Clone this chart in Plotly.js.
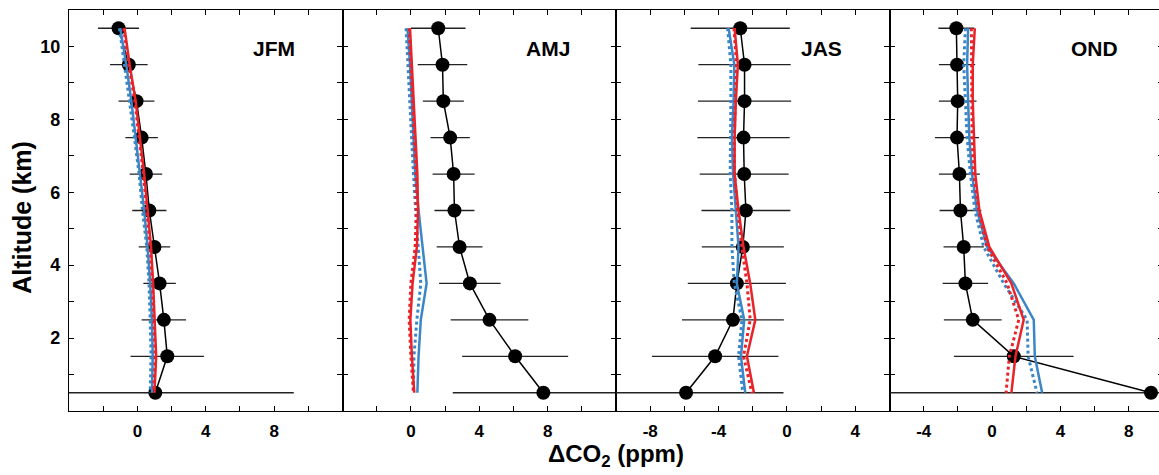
<!DOCTYPE html>
<html>
<head>
<meta charset="utf-8">
<script src="https://cdn.plot.ly/plotly-3.0.1.min.js"></script>
<style>html,body{margin:0;padding:0;overflow:hidden;background:#fff;}#plot{width:1165px;height:475px;}</style>
</head>
<body>
<div id="plot"></div>
<script>
// Altitude levels (km), top to bottom
const altitude = [10.5, 9.5, 8.5, 7.5, 6.5, 5.5, 4.5, 3.5, 2.5, 1.5, 0.5];
const seasons = ['JFM', 'AMJ', 'JAS', 'OND'];

// Observations (black) and their errors
const obsJFM = [-1.1, -0.5, -0.05, 0.25, 0.5, 0.7, 1.0, 1.3, 1.55, 1.75, 1.05];
const errJFM = [1.2, 1.1, 1.05, 0.95, 0.95, 1.0, 0.92, 0.95, 1.3, 2.15, 8.1];
const obsAMJ = [1.6, 1.85, 1.9, 2.3, 2.5, 2.55, 2.85, 3.45, 4.6, 6.1, 7.75];
const errAMJ = [1.6, 1.45, 1.2, 1.15, 1.23, 1.17, 1.34, 1.8, 2.27, 3.1, 5.3];
const obsJAS = [-2.73, -2.48, -2.48, -2.54, -2.5, -2.4, -2.58, -2.93, -3.16, -4.2, -5.9];
const errJAS = [2.9, 2.7, 2.73, 2.7, 2.6, 2.6, 2.4, 2.87, 2.98, 3.7, 5.7];
const obsOND = [-2.09, -2.05, -2.01, -2.05, -1.91, -1.85, -1.66, -1.56, -1.13, 1.27, 9.3];
const errOND = [1.05, 1.06, 1.1, 1.29, 1.2, 1.22, 1.18, 1.33, 1.69, 3.5, 16];

// Model red (solid / dotted)
const redSolidJFM = [-0.75, -0.45, -0.1, 0.15, 0.4, 0.6, 0.8, 0.92, 1.02, 1.1, 1.0];
const redDotJFM   = [-0.8, -0.5, -0.15, 0.1, 0.35, 0.55, 0.75, 0.88, 0.98, 1.05, 0.95];
const redSolidAMJ = [-0.05, 0.05, 0.15, 0.25, 0.38, 0.42, 0.35, 0.1, -0.03, 0.06, 0.2];
const redDotAMJ   = [-0.1, 0.0, 0.1, 0.2, 0.3, 0.32, 0.25, 0.0, -0.1, 0.0, 0.15];
const redSolidJAS = [-3.06, -2.87, -2.99, -3.06, -3.06, -2.83, -2.54, -2.15, -1.85, -2.34, -1.93];
const redDotJAS   = [-3.1, -2.95, -3.02, -3.08, -3.06, -2.88, -2.64, -2.34, -2.15, -2.54, -2.05];
const redSolidOND = [-1.01, -1.13, -1.13, -1.07, -0.98, -0.74, -0.16, 1.13, 1.85, 1.37, 1.13];
const redDotOND   = [-1.21, -1.21, -1.21, -1.17, -1.07, -0.78, -0.3, 0.88, 1.56, 1.01, 0.82];

// Model blue (solid / dotted)
const blueSolidJFM = [-1.0, -0.65, -0.35, -0.1, 0.15, 0.4, 0.6, 0.75, 0.85, 0.9, 0.85];
const blueDotJFM   = [-1.05, -0.75, -0.45, -0.17, 0.1, 0.3, 0.55, 0.68, 0.75, 0.8, 0.75];
const blueSolidAMJ = [-0.2, -0.05, 0.05, 0.15, 0.25, 0.45, 0.68, 0.92, 0.58, 0.45, 0.38];
const blueDotAMJ   = [-0.28, -0.18, -0.05, 0.05, 0.15, 0.28, 0.45, 0.58, 0.35, 0.18, 0.15];
const blueSolidJAS = [-3.41, -3.08, -3.12, -3.22, -3.15, -2.97, -2.83, -2.93, -2.5, -2.69, -2.44];
const blueDotJAS   = [-3.47, -3.28, -3.28, -3.32, -3.32, -3.22, -3.22, -3.08, -2.63, -2.83, -2.58];
const blueSolidOND = [-1.4, -1.46, -1.4, -1.33, -1.17, -0.88, -0.29, 1.27, 2.44, 2.5, 2.93];
const blueDotOND   = [-1.56, -1.66, -1.56, -1.46, -1.27, -1.0, -0.49, 0.68, 2.05, 2.11, 2.63];

// Axis ranges and ticks
const xRanges = [[-4, 12], [-4, 12], [-10, 6], [-6, 10]];
const xTickVals = [
  [-2, 0, 2, 4, 6, 8, 10],
  [-2, 0, 2, 4, 6, 8, 10],
  [-8, -6, -4, -2, 0, 2, 4],
  [-4, -2, 0, 2, 4, 6, 8]
];
const xTickText = [
  ['', '0', '', '4', '', '8', ''],
  ['', '0', '', '4', '', '8', ''],
  ['-8', '', '-4', '', '0', '', '4'],
  ['-4', '', '0', '', '4', '', '8']
];
const yTickVals = [1, 2, 3, 4, 5, 6, 7, 8, 9, 10];
const yTickText = ['', '2', '', '4', '', '6', '', '8', '', '10'];

const panels = [
  {obs: obsJFM, err: errJFM, rs: redSolidJFM, rd: redDotJFM, bs: blueSolidJFM, bd: blueDotJFM},
  {obs: obsAMJ, err: errAMJ, rs: redSolidAMJ, rd: redDotAMJ, bs: blueSolidAMJ, bd: blueDotAMJ},
  {obs: obsJAS, err: errJAS, rs: redSolidJAS, rd: redDotJAS, bs: blueSolidJAS, bd: blueDotJAS},
  {obs: obsOND, err: errOND, rs: redSolidOND, rd: redDotOND, bs: blueSolidOND, bd: blueDotOND}
];

const RED = '#e8232a', BLUE = '#3b86c6';
const traces = [];
const layout = {
  width: 1165, height: 475,
  margin: {l: 69, r: 2, t: 10, b: 64},
  paper_bgcolor: '#fff', plot_bgcolor: '#fff',
  showlegend: false,
  font: {family: 'Liberation Sans, Arial, sans-serif', color: '#000'},
  annotations: []
};

panels.forEach((p, i) => {
  const n = i === 0 ? '' : String(i + 1);
  const xa = 'x' + n, ya = 'y' + n;
  traces.push({
    x: p.obs, y: altitude, xaxis: xa, yaxis: ya, type: 'scatter', mode: 'lines+markers',
    line: {color: '#000', width: 1.5},
    marker: {color: '#000', size: 14},
    error_x: {type: 'data', array: p.err, visible: true, color: '#222', thickness: 1.3, width: 0}
  });
  [[p.bd, BLUE, 'dot', 3], [p.bs, BLUE, 'solid', 2.5], [p.rd, RED, 'dot', 3], [p.rs, RED, 'solid', 2.5]].forEach(s => {
    traces.push({
      x: s[0], y: altitude, xaxis: xa, yaxis: ya, type: 'scatter', mode: 'lines',
      line: {color: s[1], dash: s[2], width: s[3]}
    });
  });
  const d0 = i * 0.25, d1 = (i + 1) * 0.25;
  layout['xaxis' + n] = {
    domain: [d0, d1], range: xRanges[i], anchor: ya,
    tickmode: 'array', tickvals: xTickVals[i], ticktext: xTickText[i],
    ticks: 'inside', ticklen: 5, tickwidth: 1.2, tickcolor: '#000',
    showline: true, linecolor: '#000', linewidth: 1.3, mirror: 'ticks',
    showgrid: false, zeroline: false,
    tickfont: {size: 17, weight: 'bold', color: '#000'},
    ticklabelstandoff: 4
  };
  layout['yaxis' + n] = {
    domain: [0, 1], range: [0, 11], anchor: xa,
    tickmode: 'array', tickvals: yTickVals, ticktext: yTickText,
    ticks: 'inside', ticklen: 5, tickwidth: 1.2, tickcolor: '#000',
    showline: true, linecolor: '#000', linewidth: 1.3, mirror: 'ticks',
    showgrid: false, zeroline: false,
    showticklabels: i === 0,
    tickfont: {size: 18, weight: 'bold', color: '#000'},
    ticklabelstandoff: 4
  };
  layout.annotations.push({
    text: seasons[i], xref: xa + ' domain', yref: ya, x: 0.75, y: 9.95,
    showarrow: false, xanchor: 'center', yanchor: 'middle',
    font: {size: 21, weight: 'bold', color: '#000'}
  });
});

layout.annotations.push({
  text: 'Altitude (km)', xref: 'paper', yref: 'paper', x: -0.043, y: 0.484,
  xanchor: 'center', yanchor: 'middle', textangle: -90, showarrow: false,
  font: {size: 25, weight: 'bold', color: '#000'}
});
layout.annotations.push({
  text: '\u0394CO<sub>2</sub> (ppm)', xref: 'paper', yref: 'paper', x: 0.5, y: -0.11,
  xanchor: 'center', yanchor: 'middle', showarrow: false,
  font: {size: 24, weight: 'bold', color: '#000'}
});

Plotly.newPlot('plot', traces, layout, {displayModeBar: false, responsive: false});
</script>
</body>
</html>
